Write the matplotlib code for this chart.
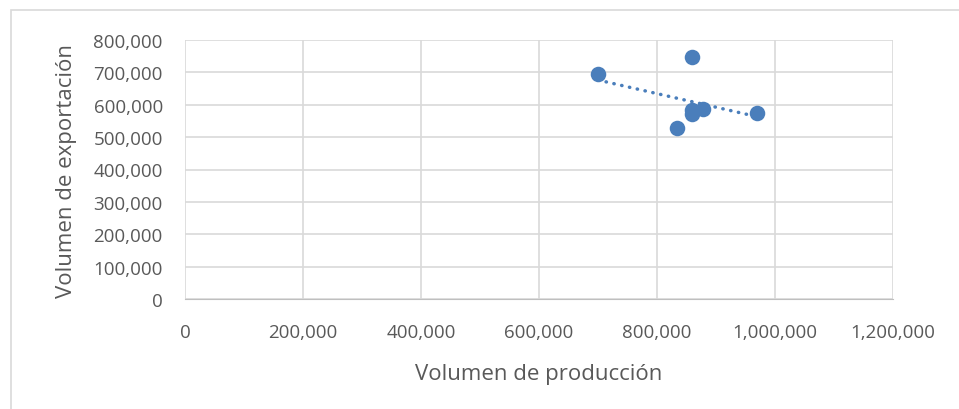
import matplotlib
matplotlib.use("Agg")
from matplotlib import pyplot as plt
from matplotlib import ticker
from matplotlib.patches import Rectangle
import numpy as np

# production vs export volumes
produccion = [700500, 858800, 858800, 858800, 878500, 834500, 969000]
exportacion = [696000, 747600, 585000, 572000, 587600, 528000, 574000]

x_ticks = [0, 200000, 400000, 600000, 800000, 1000000, 1200000]
y_ticks = [0, 100000, 200000, 300000, 400000, 500000, 600000, 700000, 800000]

blue = "#4A7EBB"
txt = "#595959"
plt.rcParams['font.family'] = ['Open Sans', 'DejaVu Sans']

fig = plt.figure(figsize=(9.59, 4.10), dpi=100)
# outer chart border (runs off the right and bottom edges)
fig.patches.append(Rectangle((11 / 959, -5 / 410), 960 / 959, 404 / 410, transform=fig.transFigure,
                             fill=False, edgecolor="#d9d9d9", linewidth=1.2))
ax = fig.add_axes([185 / 959, 1 - 300 / 410, (893 - 185) / 959, (300 - 41) / 410])

ax.scatter(produccion, exportacion, s=125, color=blue, zorder=3, linewidths=0)

# linear trend line
m, b = np.polyfit(produccion, exportacion, 1)
xt = np.array([min(produccion), max(produccion)])
ax.plot(xt, m * xt + b, color=blue, linewidth=2.5, linestyle=(0, (0.1, 2.2)),
        dash_capstyle="round", zorder=2)

ax.set_xlim(0, 1200000)
ax.set_ylim(0, 800000)
ax.set_xticks(x_ticks)
ax.set_yticks(y_ticks)
fmt = ticker.FuncFormatter(lambda v, p: "{:,.0f}".format(v))
ax.xaxis.set_major_formatter(fmt)
ax.yaxis.set_major_formatter(fmt)
ax.tick_params(length=0, labelsize=13.5, colors=txt)
ax.tick_params(axis="y", pad=16)
ax.tick_params(axis="x", pad=17)

ax.grid(color="#d9d9d9", linewidth=1.2)
ax.set_axisbelow(True)
for s in ["top", "right", "left"]:
    ax.spines[s].set_visible(False)
ax.spines["bottom"].set_color("#bfbfbf")

ax.set_xlabel("Volumen de producción", fontsize=16, color=txt, labelpad=16)
ax.set_ylabel("Volumen de exportación", fontsize=16, color=txt, labelpad=12)

plt.savefig("out.png", dpi=100)
